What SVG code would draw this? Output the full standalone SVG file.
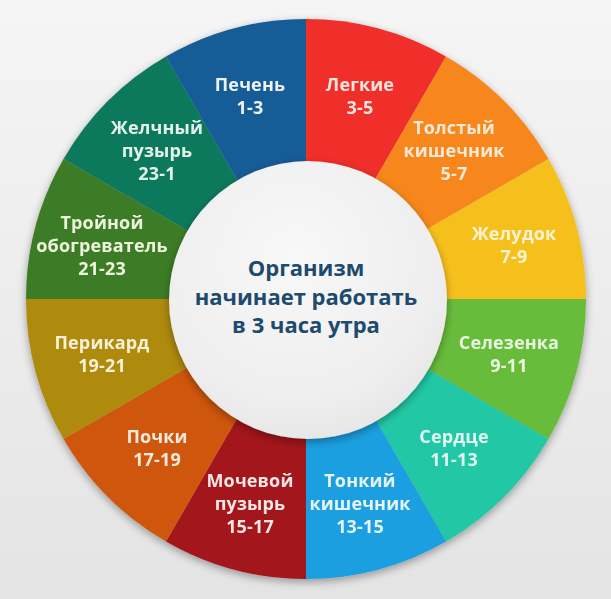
<svg xmlns="http://www.w3.org/2000/svg" width="611" height="599" viewBox="0 0 611 599">
<defs>
<linearGradient id="bg" x1="0" y1="0" x2="0" y2="1">
<stop offset="0" stop-color="#f5f5f5"/>
<stop offset="1" stop-color="#e4e4e5"/>
</linearGradient>
<radialGradient id="hub" cx="0.45" cy="0.35" r="0.75">
<stop offset="0" stop-color="#f8f8f8"/>
<stop offset="0.7" stop-color="#eeeeee"/>
<stop offset="1" stop-color="#e2e2e2"/>
</radialGradient>
<filter id="sh" x="-20%" y="-20%" width="140%" height="140%">
<feGaussianBlur in="SourceAlpha" stdDeviation="4"/>
<feOffset dx="0" dy="3" result="b"/>
<feComponentTransfer><feFuncA type="linear" slope="0.35"/></feComponentTransfer>
<feMerge><feMergeNode/><feMergeNode in="SourceGraphic"/></feMerge>
</filter>
</defs>
<style>
.lbl{font-family:"Open Sans","DejaVu Sans",sans-serif;font-weight:700;font-size:18px;text-anchor:middle;fill:#f8f6f0;letter-spacing:0.15px}
.ctr{font-family:"Open Sans","DejaVu Sans",sans-serif;font-weight:700;font-size:22px;text-anchor:middle;fill:#1d4a6d}
</style>
<rect width="611" height="599" fill="url(#bg)"/>
<g id="ring" filter="url(#sh)">
<g id="seg-legkie"><path d="M306,299 L306,19 A280,280 0 0 1 446,56.51 Z" fill="#f02e2a"/>
<text class="lbl" x="360" y="91" style="fill:#fde6e2">Легкие</text><text class="lbl" x="360" y="114" style="fill:#fde6e2">3-5</text></g>
<g id="seg-tolstyj"><path d="M306,299 L446,56.51 A280,280 0 0 1 548.49,159 Z" fill="#f7871c"/>
<text class="lbl" x="454" y="134" style="fill:#fde9d6">Толстый</text><text class="lbl" x="454" y="157" style="fill:#fde9d6">кишечник</text><text class="lbl" x="454" y="180" style="fill:#fde9d6">5-7</text></g>
<g id="seg-zheludok"><path d="M306,299 L548.49,159 A280,280 0 0 1 586,299 Z" fill="#f6c01f"/>
<text class="lbl" x="514" y="240" style="fill:#fdf3d3">Желудок</text><text class="lbl" x="514" y="263" style="fill:#fdf3d3">7-9</text></g>
<g id="seg-selezenka"><path d="M306,299 L586,299 A280,280 0 0 1 548.49,439 Z" fill="#67bc3a"/>
<text class="lbl" x="509" y="349" style="fill:#e9f6df">Селезенка</text><text class="lbl" x="509" y="372" style="fill:#e9f6df">9-11</text></g>
<g id="seg-serdce"><path d="M306,299 L548.49,439 A280,280 0 0 1 446,541.49 Z" fill="#20c8a6"/>
<text class="lbl" x="454" y="443" style="fill:#e2f7f1">Сердце</text><text class="lbl" x="454" y="466" style="fill:#e2f7f1">11-13</text></g>
<g id="seg-tonkij"><path d="M306,299 L446,541.49 A280,280 0 0 1 306,579 Z" fill="#1b9fe0"/>
<text class="lbl" x="360" y="487" style="fill:#e6f4fb">Тонкий</text><text class="lbl" x="360" y="510" style="fill:#e6f4fb">кишечник</text><text class="lbl" x="360" y="533" style="fill:#e6f4fb">13-15</text></g>
<g id="seg-mochevoj"><path d="M306,299 L306,579 A280,280 0 0 1 166,541.49 Z" fill="#a3141a"/>
<text class="lbl" x="250" y="487" style="fill:#f7e6e4">Мочевой</text><text class="lbl" x="250" y="510" style="fill:#f7e6e4">пузырь</text><text class="lbl" x="250" y="533" style="fill:#f7e6e4">15-17</text></g>
<g id="seg-pochki"><path d="M306,299 L166,541.49 A280,280 0 0 1 63.51,439 Z" fill="#cf560e"/>
<text class="lbl" x="157" y="443" style="fill:#fbe9dc">Почки</text><text class="lbl" x="157" y="466" style="fill:#fbe9dc">17-19</text></g>
<g id="seg-perikard"><path d="M306,299 L63.51,439 A280,280 0 0 1 26,299 Z" fill="#ae8a10"/>
<text class="lbl" x="102" y="349" style="fill:#f8f0d4">Перикард</text><text class="lbl" x="102" y="372" style="fill:#f8f0d4">19-21</text></g>
<g id="seg-trojnoj"><path d="M306,299 L26,299 A280,280 0 0 1 63.51,159 Z" fill="#3e7c28"/>
<text class="lbl" x="102" y="229" style="fill:#eef3dc">Тройной</text><text class="lbl" x="102" y="252" style="fill:#eef3dc">обогреватель</text><text class="lbl" x="102" y="275" style="fill:#eef3dc">21-23</text></g>
<g id="seg-zhelchnyj"><path d="M306,299 L63.51,159 A280,280 0 0 1 166,56.51 Z" fill="#11795b"/>
<text class="lbl" x="157" y="134" style="fill:#e4f2ec">Желчный</text><text class="lbl" x="157" y="157" style="fill:#e4f2ec">пузырь</text><text class="lbl" x="157" y="180" style="fill:#e4f2ec">23-1</text></g>
<g id="seg-pechen"><path d="M306,299 L166,56.51 A280,280 0 0 1 306,19 Z" fill="#135c97"/>
<text class="lbl" x="250" y="91" style="fill:#eef2f7">Печень</text><text class="lbl" x="250" y="114" style="fill:#eef2f7">1-3</text></g>
</g>
<g id="center">
<circle cx="308" cy="300" r="139" fill="url(#hub)" filter="url(#sh)"/>
<text class="ctr" x="306" y="276">Организм</text>
<text class="ctr" x="306" y="305">начинает работать</text>
<text class="ctr" x="306" y="333">в 3 часа утра</text>
</g>
</svg>
